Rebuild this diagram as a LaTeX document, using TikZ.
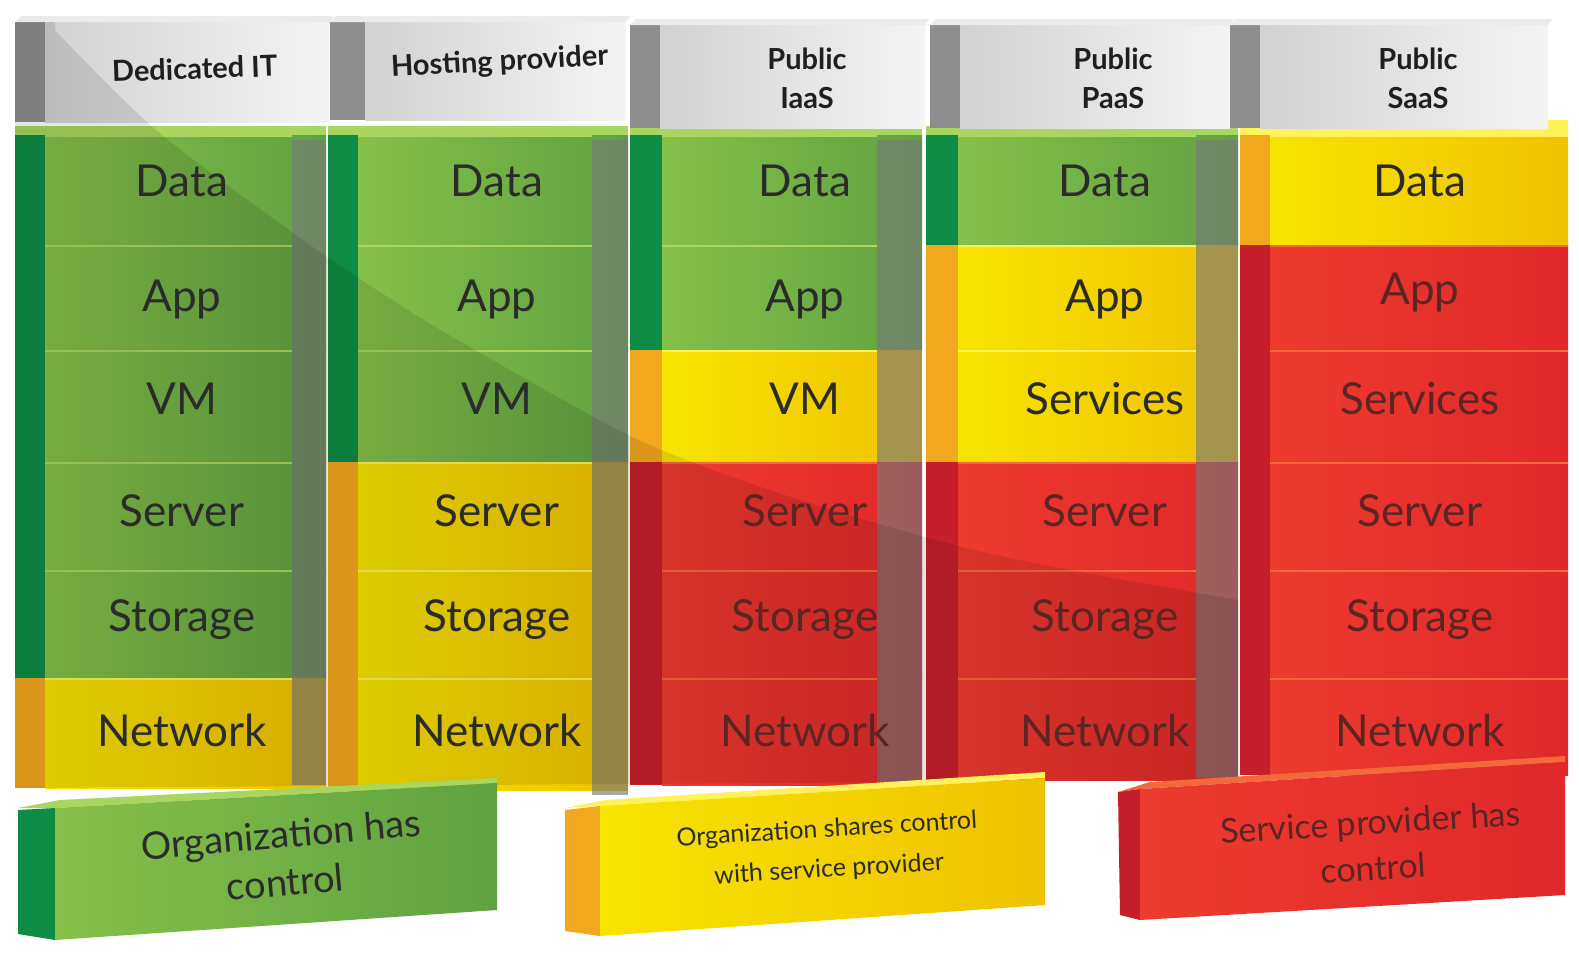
\documentclass[tikz,border=0pt]{standalone}
\usepackage{fontspec}
\setmainfont{Lato}
\definecolor{gS}{HTML}{0E8C45}
\definecolor{gL}{HTML}{86C04A}
\definecolor{gR}{HTML}{5FA241}
\definecolor{gH}{HTML}{A8D65E}
\definecolor{gT}{HTML}{2B2B2B}
\definecolor{yS}{HTML}{F2A81E}
\definecolor{yL}{HTML}{F7E400}
\definecolor{yR}{HTML}{F0C200}
\definecolor{yH}{HTML}{FFF25A}
\definecolor{yT}{HTML}{2B2B2B}
\definecolor{rS}{HTML}{C41F2A}
\definecolor{rL}{HTML}{EE3B2F}
\definecolor{rR}{HTML}{E0282A}
\definecolor{rH}{HTML}{F3693B}
\definecolor{rT}{HTML}{5B2522}
\definecolor{hS}{HTML}{8E8E8E}
\definecolor{hL}{HTML}{D2D2D2}
\definecolor{hR}{HTML}{F4F4F4}
\definecolor{barc}{HTML}{7A7A7A}
\newcommand{\StackCol}[5]{%
  \foreach \ta/\tb/\cc in {#5}{%
    \fill[\cc S] (#1,\ta) rectangle (#2,\tb);
    \shade[left color=\cc L, right color=\cc R] (#2,\ta) rectangle (#3,\tb);
    \draw[\cc H, line width=1.2pt] (#2,\ta+1) -- (#4,\ta+1);
  }}
\newcommand{\StackLab}[3]{%
  \foreach \tc/\cc/\lab in {#3}{%
    \node[lab, text=\cc T] (c#2-\lab) at (#1,\tc+16) {\lab};
  }}
\newcommand{\HeadBox}[5]{%
  \fill[hS] (#1,#4) rectangle (#2,#5);
  \shade[left color=hL, right color=hR] (#2,#4) rectangle (#3,#5);
  \fill[black!8] (#1+6,#4-6) -- (#3+4,#4-6) -- (#3,#4) -- (#1,#4) -- cycle;
}
\begin{document}
\begin{tikzpicture}[x=1pt,y=-1pt,
  lab/.style={font=\fontsize{44}{50}\selectfont, inner sep=0pt, anchor=base},
  hd/.style={font=\bfseries\fontsize{29}{39}\selectfont, align=center, text=black!88, inner sep=0pt, anchor=base},
  lg/.style={align=center, inner sep=0pt, anchor=center}]
\useasboundingbox (0,0) rectangle (1579,969);
\fill[white] (0,0) rectangle (1579,969);

% top faces of the stacks
\fill[gH] (15,126) rectangle (326,137);
\fill[gH] (328,126) rectangle (628,137);
\fill[gH] (630,126) rectangle (922,137);
\fill[gH] (926,126) rectangle (1238,137);
\fill[yH] (1240,120) rectangle (1568,137);

% stacks: strip left, face left, face right, highlight end, rows
\StackCol{15}{45}{326}{292}{135/245/g,245/350/g,350/462/g,462/570/g,570/678/g,678/788/y}
\StackCol{328}{358}{628}{592}{135/245/g,245/350/g,350/462/g,462/570/y,570/678/y,678/790/y}
\StackCol{630}{662}{922}{877}{135/245/g,245/350/g,350/462/y,462/570/r,570/678/r,678/785/r}
\StackCol{926}{958}{1238}{1196}{135/245/g,245/350/y,350/462/y,462/570/r,570/678/r,678/780/r}
\StackCol{1240}{1270}{1568}{1568}{135/245/y,245/350/r,350/462/r,462/570/r,570/678/r,678/775/r}

% translucent side bars
\fill[barc, opacity=0.65] (292,140) rectangle (326,785);
\fill[barc, opacity=0.65] (592,140) rectangle (628,795);
\fill[barc, opacity=0.65] (877,140) rectangle (922,782);
\fill[barc, opacity=0.65] (1196,140) rectangle (1238,778);

% headers
\HeadBox{15}{45}{330}{22}{122}
\HeadBox{330}{365}{626}{22}{120}
\HeadBox{630}{660}{925}{25}{128}
\HeadBox{930}{960}{1230}{25}{128}
\HeadBox{1230}{1260}{1548}{25}{128}

% diagonal shadow
\fill[black, opacity=0.1] (15,22) -- (55,22) -- plot[smooth] coordinates {(55,30) (156,130) (303,240) (400,305) (475,350) (639,440) (800,500) (996,555) (1238,600)} -- (1238,780) -- (15,788) -- cycle;

% header texts
\node[hd, rotate=2] (hd1) at (195,79) {Dedicated IT};
\node[hd, rotate=3] (hd2) at (500,71) {Hosting provider};
\node[hd] (hd3) at (807,108) {Public\\IaaS};
\node[hd] (hd4) at (1113,108) {Public\\PaaS};
\node[hd] (hd5) at (1418,108) {Public\\SaaS};

% labels
\StackLab{182}{1}{180/g/Data,295/g/App,398/g/VM,510/g/Server,615/g/Storage,730/y/Network}
\StackLab{497}{2}{180/g/Data,295/g/App,398/g/VM,510/y/Server,615/y/Storage,730/y/Network}
\StackLab{805}{3}{180/g/Data,295/g/App,398/y/VM,510/r/Server,615/r/Storage,730/r/Network}
\StackLab{1105}{4}{180/g/Data,295/y/App,398/y/Services,510/r/Server,615/r/Storage,730/r/Network}
\StackLab{1420}{5}{180/y/Data,288/r/App,398/r/Services,510/r/Server,615/r/Storage,730/r/Network}

% legend boxes
\fill[gH] (18,808) -- (60,800) -- (497,778) -- (497,783) -- (55,808) -- cycle;
\fill[gS] (18,810) -- (55,808) -- (55,940) -- (18,934) -- cycle;
\shade[left color=gL, right color=gR] (55,808) -- (497,783) -- (497,910) -- (55,940) -- cycle;

\fill[yH] (565,808) -- (605,800) -- (1045,772) -- (1045,778) -- (600,806) -- cycle;
\fill[yS] (565,810) -- (600,806) -- (600,936) -- (565,931) -- cycle;
\shade[left color=yL, right color=yR] (600,806) -- (1045,778) -- (1045,905) -- (600,936) -- cycle;

\fill[rH] (1118,792) -- (1150,782) -- (1565,756) -- (1565,762) -- (1140,789) -- cycle;
\fill[rS] (1118,792) -- (1140,789) -- (1140,920) -- (1120,915) -- cycle;
\shade[left color=rL, right color=rR] (1140,789) -- (1565,762) -- (1565,895) -- (1140,920) -- cycle;

\node[lg, rotate=5, text=gT, font=\fontsize{38}{48}\selectfont] (lg1) at (283,858) {Organization has\\control};
\node[lg, rotate=3.5, text=yT, font=\fontsize{25}{40}\selectfont] (lg2) at (828,850) {Organization shares control\\with service provider};
\node[lg, rotate=3.5, text=rT, font=\fontsize{34}{46}\selectfont] (lg3) at (1372,845) {Service provider has\\control};
\end{tikzpicture}
\end{document}
